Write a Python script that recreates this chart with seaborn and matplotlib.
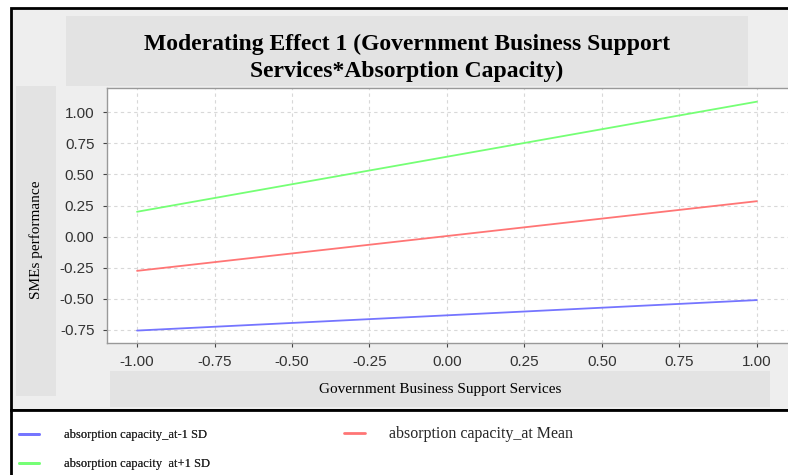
import numpy as np
import pandas as pd
import matplotlib
matplotlib.use('Agg')
import matplotlib.pyplot as plt
import seaborn as sns
from matplotlib.patches import Rectangle
from matplotlib.lines import Line2D

# Data
x_vals = [-1.0, 1.0]
low_sd = [-0.755, -0.51]
mean_vals = [-0.275, 0.285]
high_sd = [0.20, 1.085]
series_names = ['absorption capacity_at-1 SD', 'absorption capacity_at Mean', 'absorption capacity_at+1 SD']
colors = ['#7575ff', '#ff7575', '#75ff75']
tick_vals = [-1.0, -0.75, -0.5, -0.25, 0.0, 0.25, 0.5, 0.75, 1.0]

df = pd.DataFrame({
    'x': x_vals * 3,
    'y': low_sd + mean_vals + high_sd,
    'series': [series_names[0]] * 2 + [series_names[1]] * 2 + [series_names[2]] * 2,
})

sns.set_theme(style='white')
plt.rcParams['font.family'] = ['Liberation Sans', 'DejaVu Sans']

W, H = 788, 475
fig = plt.figure(figsize=(W / 100, H / 100), dpi=100)
fig.patch.set_facecolor('white')

def px_rect(x0, y0, x1, y1, **kw):
    # rectangle in pixel coords (top-left origin)
    r = Rectangle((x0 / W, 1 - y1 / H), (x1 - x0) / W, (y1 - y0) / H,
                  transform=fig.transFigure, zorder=-5, **kw)
    fig.patches.append(r)

# chart panel background and boxes
px_rect(11, 8, W + 2, 410, facecolor='#eeeeee', edgecolor='black', linewidth=2)
px_rect(66, 16, 748, 86, facecolor='#e3e3e3', edgecolor='none')
px_rect(16, 86, 56, 396, facecolor='#e3e3e3', edgecolor='none')
px_rect(110, 371, 770, 407, facecolor='#e3e3e3', edgecolor='none')
px_rect(11, 410, W + 2, H + 2, facecolor='white', edgecolor='black', linewidth=2)

fig.text(407 / W, 1 - 58 / H, 'Moderating Effect 1 (Government Business Support\nServices*Absorption Capacity)',
         ha='center', va='center', fontsize=17, fontweight='bold', family='Liberation Serif',
         linespacing=1.4, color='black', zorder=-1)

ax = fig.add_axes([107 / W, 1 - 343 / H, (W - 107) / W + 0.01, (343 - 88) / H])
ax.set_zorder(2)
ax.set_facecolor('white')
sns.lineplot(data=df, x='x', y='y', hue='series', palette=colors, hue_order=series_names,
             linewidth=1.3, ax=ax, legend=False)

ax.set_xlim(-1.097, 1.126)
ax.set_ylim(-0.855, 1.195)
ax.set_xticks(tick_vals)
ax.set_yticks(tick_vals[1:])
ax.set_xticklabels([f'{v:.2f}' for v in tick_vals])
ax.set_yticklabels([f'{v:.2f}' for v in tick_vals[1:]])
ax.tick_params(axis='both', labelsize=11, colors='#444444', length=3, width=0.8, direction='out',
               pad=6, bottom=True, left=True)
ax.tick_params(axis='both', labelcolor='#333333')
ax.grid(True, color='#d8d8d8', linestyle=(0, (3, 3)), linewidth=0.8)
for s in ax.spines.values():
    s.set_color('#999999')
    s.set_linewidth(1)

ax.set_xlabel('')
ax.set_ylabel('')
fig.text(440 / W, 1 - 390 / H, 'Government Business Support Services', ha='center', va='center',
         fontsize=11, family='Liberation Serif', color='black')
fig.text(36 / W, 1 - 240 / H, 'SMEs performance', ha='center', va='center', rotation=90,
         fontsize=11, family='Liberation Serif', color='black')

# legend below the chart
handles = [Line2D([], [], color=c, linewidth=2) for c in colors]
leg1 = fig.legend([handles[0], handles[2]], [series_names[0], 'absorption capacity  at+1 SD'],
                  loc='upper left', bbox_to_anchor=(8 / W, 1 - 418 / H), frameon=False,
                  handlelength=1.6, handletextpad=2.0, labelspacing=1.35,
                  prop={'family': 'Liberation Serif', 'size': 9})
fig.add_artist(leg1)
leg2 = fig.legend([handles[1]], [series_names[1]], loc='upper left',
                  bbox_to_anchor=(330 / W, 1 - 412 / H), frameon=False,
                  handlelength=1.3, handletextpad=1.5,
                  prop={'family': 'Liberation Serif', 'size': 11.5})

fig.savefig('out.png', dpi=100)
